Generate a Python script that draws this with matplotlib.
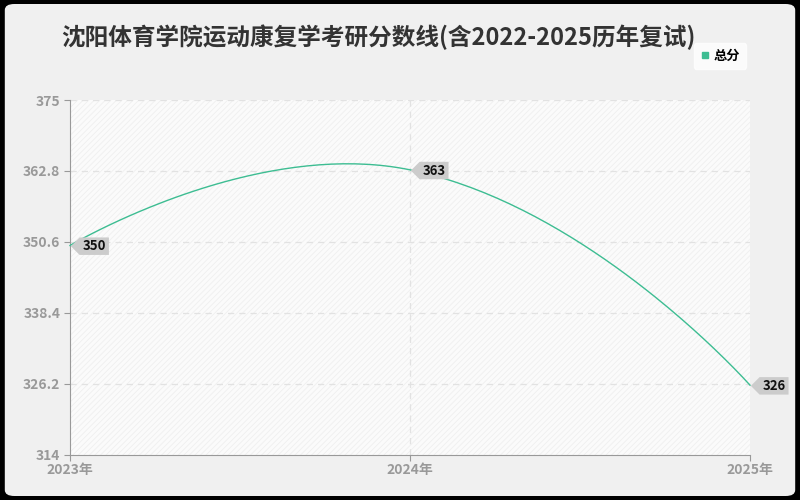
import numpy as np
import matplotlib
matplotlib.use('Agg')
import matplotlib.pyplot as plt
from matplotlib.patches import FancyBboxPatch, Rectangle
from matplotlib.path import Path
from matplotlib.lines import Line2D

plt.rcParams['font.family'] = ['Noto Sans CJK SC', 'DejaVu Sans']
plt.rcParams['hatch.linewidth'] = 0.6

# 数据
years = [2023, 2024, 2025]
year_labels = ['2023年', '2024年', '2025年']
scores = [350, 363, 326]
y_ticks = [314, 326.2, 338.4, 350.6, 362.8, 375]

line_color = '#3dbd92'


def tag_box(x0, y0, width, height, mutation_size):
    # 左侧带尖角的标签框
    pad = 0.22 * mutation_size
    x0 -= pad
    y0 -= pad * 0.6
    w = width + 2 * pad
    h = height + pad * 1.2
    tip = h * 0.5
    verts = [(x0 - tip, y0 + h / 2), (x0, y0), (x0 + w, y0), (x0 + w, y0 + h),
             (x0, y0 + h), (x0 - tip, y0 + h / 2)]
    return Path(verts, closed=True)


fig = plt.figure(figsize=(8, 5), dpi=100, facecolor='black')
# 圆角浅灰背景
bg = FancyBboxPatch((0.006, 0.008), 0.988, 0.984, boxstyle='round,pad=0,rounding_size=0.012',
                    transform=fig.transFigure, fc='#f0f0f0', ec='none', zorder=-10)
fig.patches.append(bg)

ax = fig.add_axes([0.0875, 0.09, 0.85, 0.71])
ax.set_zorder(2)
ax.set_xlim(2023, 2025)
ax.set_ylim(314, 375)
ax.patch.set_facecolor('#fbfbfb')
ax.add_patch(Rectangle((0, 0), 1, 1, transform=ax.transAxes, fc='none', ec='#efefef',
                       hatch='//////', lw=0, zorder=0))

# 网格
for yv in y_ticks[1:]:
    ax.axhline(yv, color='#e2e2e2', lw=0.9, ls=(0, (5, 4)), zorder=1)
ax.axvline(2024, color='#e2e2e2', lw=0.9, ls=(0, (5, 4)), zorder=1)

for s in ['top', 'right']:
    ax.spines[s].set_visible(False)
ax.spines['left'].set_color('#999999')
ax.spines['bottom'].set_color('#999999')
ax.set_yticks(y_ticks)
ax.set_yticklabels(['314', '326.2', '338.4', '350.6', '362.8', '375'])
ax.set_xticks(years)
ax.set_xticklabels(year_labels)
ax.tick_params(axis='both', colors='#999999', labelcolor='#999999', labelsize=10, length=4)
ax.tick_params(axis='y', pad=3)
ax.tick_params(axis='x', pad=1.5)
for lab in ax.get_xticklabels() + ax.get_yticklabels():
    lab.set_fontweight('bold')

# 平滑曲线（echarts 风格贝塞尔，平滑系数0.5，在像素空间计算）
fig.canvas.draw()
pts = ax.transData.transform(np.column_stack([years, scores]))
smooth = 0.5
n = len(pts)
cp_in = [None] * n
cp_out = [None] * n
cp_out[0] = pts[0]
for i in range(1, n - 1):
    prev = pts[i - 1]
    cur = pts[i]
    nxt = pts[i + 1]
    v = nxt - prev
    d0 = np.linalg.norm(cur - prev)
    d1 = np.linalg.norm(nxt - cur)
    r = d1 / (d0 + d1)
    cp_in[i] = cur - v * smooth * (1 - r)
    cp_out[i] = cur + v * smooth * r
cp_in[n - 1] = pts[n - 1]
curve = []
t = np.linspace(0, 1, 80)[:, None]
for i in range(n - 1):
    p0, p3 = pts[i], pts[i + 1]
    p1, p2 = cp_out[i], cp_in[i + 1]
    seg = (1 - t) ** 3 * p0 + 3 * (1 - t) ** 2 * t * p1 + 3 * (1 - t) * t ** 2 * p2 + t ** 3 * p3
    curve.append(seg)
curve = ax.transData.inverted().transform(np.vstack(curve))
ax.plot(curve[:, 0], curve[:, 1], color=line_color, lw=1, zorder=3, clip_on=False)

# 数据标签
for x, y in zip(years, scores):
    ax.annotate(str(y), (x, y), xytext=(9, -0.5), textcoords='offset points',
                ha='left', va='center', fontsize=9.5, fontweight='bold', color='#111111',
                bbox=dict(boxstyle=tag_box, fc='#cccccc', ec='none'),
                zorder=5, annotation_clip=False)

# 标题
fig.text(0.4725, 0.926, '沈阳体育学院运动康复学考研分数线(含2022-2025历年复试)',
         ha='center', va='center', fontsize=17, fontweight='bold', color='#333333')

# 图例
handle = Line2D([], [], marker='s', ls='none', color=line_color, markersize=4)
leg = fig.legend([handle], ['总分'], loc='center', bbox_to_anchor=(0.9, 0.888),
                 frameon=True, prop={'size': 9.5, 'weight': 'bold'}, handletextpad=0.3,
                 borderpad=0.45, handlelength=0.8, fancybox=True)
leg.get_frame().set_facecolor('white')
leg.get_frame().set_edgecolor('white')

fig.savefig('out.png', dpi=100, facecolor=fig.get_facecolor())
